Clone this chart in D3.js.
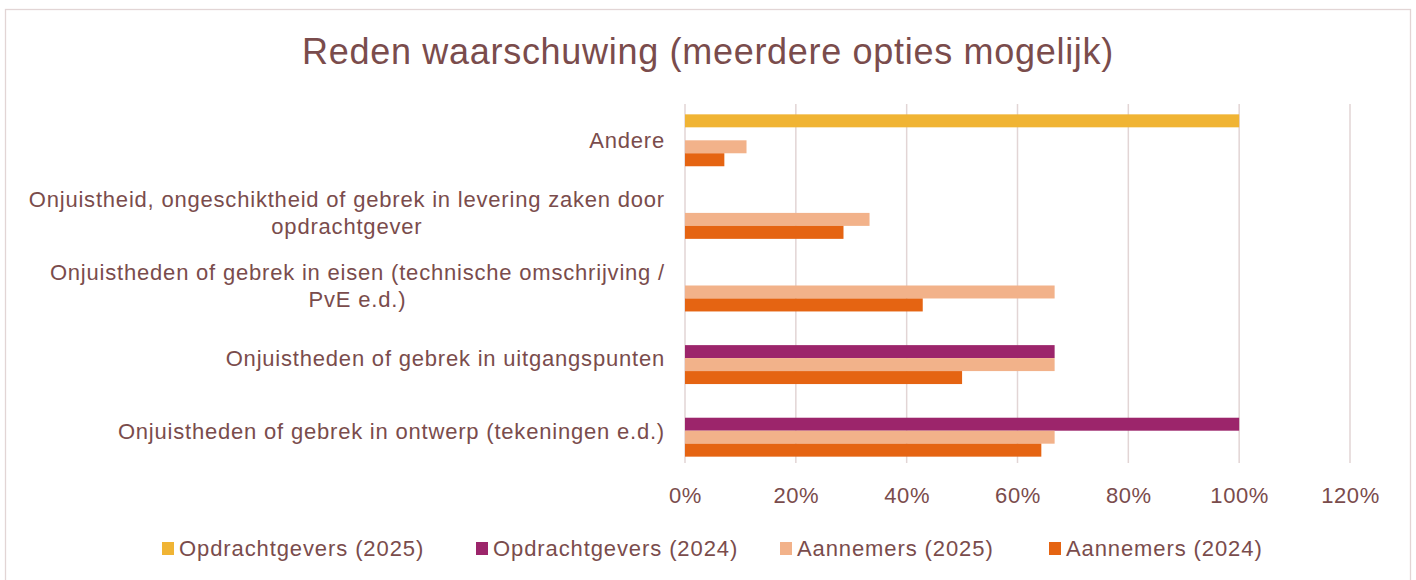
<!DOCTYPE html>
<html lang="nl">
    <head>
        <meta charset="utf-8">
        <title>Reden waarschuwing</title>
        <script type="text/javascript" src="https://cdn.jsdelivr.net/npm/d3@7"></script>
        <style>
            body { margin: 0; background: #fff; }
            text { font-family: "Liberation Sans", Arial, sans-serif; fill: #7a4c4c; }
        </style>
    </head>
    <body>
        <script type="text/javascript">

            //Width and height
            var w = 1416;
            var h = 580;

            //Data
            var categories = [
                "Andere",
                "Onjuistheid, ongeschiktheid of gebrek in levering zaken door|opdrachtgever",
                "Onjuistheden of gebrek in eisen (technische omschrijving /|PvE e.d.)",
                "Onjuistheden of gebrek in uitgangspunten",
                "Onjuistheden of gebrek in ontwerp (tekeningen e.d.)"
            ];
            var seriesNames = ["Opdrachtgevers (2025)", "Opdrachtgevers (2024)", "Aannemers (2025)", "Aannemers (2024)"];
            var seriesColors = ["#f0b434", "#9c256b", "#f2b28a", "#e56412"];
            var opdrachtgevers2025 = [1.0, 0, 0, 0, 0];
            var opdrachtgevers2024 = [0, 0, 0, 0.667, 1.0];
            var aannemers2025 = [0.111, 0.333, 0.667, 0.667, 0.667];
            var aannemers2024 = [0.071, 0.286, 0.429, 0.5, 0.643];
            var xTicks = [0, 0.2, 0.4, 0.6, 0.8, 1.0, 1.2];

            var values = [opdrachtgevers2025, opdrachtgevers2024, aannemers2025, aannemers2024];

            var svg = d3.select("body")
                    .append("svg")
                    .attr("width", w)
                    .attr("height", h);

            //Outer frame
            svg.append("rect")
                .attr("x", 5.5).attr("y", 9.5)
                .attr("width", 1405).attr("height", 580)
                .attr("fill", "#fff")
                .attr("stroke", "#e2d5d5")
                .attr("stroke-width", 1.3);

            //Title
            svg.append("text")
                .attr("x", 708).attr("y", 64)
                .attr("text-anchor", "middle")
                .attr("font-size", "36px")
                .attr("letter-spacing", "0.7px")
                .text("Reden waarschuwing (meerdere opties mogelijk)");

            //Scales
            var xScale = d3.scaleLinear()
                    .domain([0, 1.2])
                    .range([685, 1350]);

            var yScale = d3.scaleBand()
                    .domain(categories)
                    .range([104, 467])
                    .paddingInner(0.285)
                    .paddingOuter(0.1425);

            var subScale = d3.scaleBand()
                    .domain(d3.range(seriesNames.length))
                    .range([0, yScale.bandwidth()]);

            //Gridlines
            svg.append("g")
                .selectAll("line")
                .data(xTicks)
                .enter()
                .append("line")
                .attr("x1", function (d) { return xScale(d); })
                .attr("x2", function (d) { return xScale(d); })
                .attr("y1", 104)
                .attr("y2", 463)
                .attr("stroke", "#e2d5d5")
                .attr("stroke-width", 1.5);

            //Bars
            values.forEach(function (vals, s) {
                svg.append("g")
                    .selectAll("rect")
                    .data(vals)
                    .enter()
                    .append("rect")
                    .attr("x", xScale(0))
                    .attr("y", function (d, i) { return yScale(categories[i]) + subScale(s); })
                    .attr("width", function (d) { return xScale(d) - xScale(0); })
                    .attr("height", subScale.bandwidth())
                    .attr("fill", seriesColors[s]);
            });

            //X axis
            var xAxis = svg.append("g")
                    .attr("transform", "translate(0,463)")
                    .call(d3.axisBottom(xScale)
                        .tickValues(xTicks)
                        .tickSize(0)
                        .tickPadding(24)
                        .tickFormat(d3.format(".0%")));
            xAxis.select(".domain").remove();
            xAxis.selectAll("text")
                .attr("font-size", "22px")
                .attr("letter-spacing", "0.6px")
                .attr("font-family", null)
                .attr("fill", null);

            //Category labels
            var yAxis = svg.append("g");
            categories.forEach(function (c) {
                var lines = c.split("|");
                var cy = yScale(c) + yScale.bandwidth() / 2;
                var t = yAxis.append("text")
                        .attr("font-size", "22px")
                        .attr("letter-spacing", "0.8px")
                        .attr("text-anchor", "middle");
                lines.forEach(function (l, i) {
                    t.append("tspan")
                        .attr("x", 0)
                        .attr("y", cy + 8 + (i - (lines.length - 1) / 2) * 27)
                        .text(l);
                });
                var bw = t.node().getBBox().width;
                t.attr("transform", "translate(" + (665 - bw / 2) + ",0)");
            });

            //Legend
            var legendX = [162, 476, 780, 1049];
            var legend = svg.append("g")
                    .selectAll("g")
                    .data(seriesNames)
                    .enter()
                    .append("g")
                    .attr("transform", function (d, i) { return "translate(" + legendX[i] + ",548)"; });
            legend.append("rect")
                .attr("x", 0).attr("y", -6)
                .attr("width", 12).attr("height", 13)
                .attr("fill", function (d, i) { return seriesColors[i]; });
            legend.append("text")
                .attr("x", 17).attr("y", 8)
                .attr("font-size", "22px")
                .attr("letter-spacing", "0.9px")
                .text(function (d) { return d; });

        </script>
    </body>
</html>
